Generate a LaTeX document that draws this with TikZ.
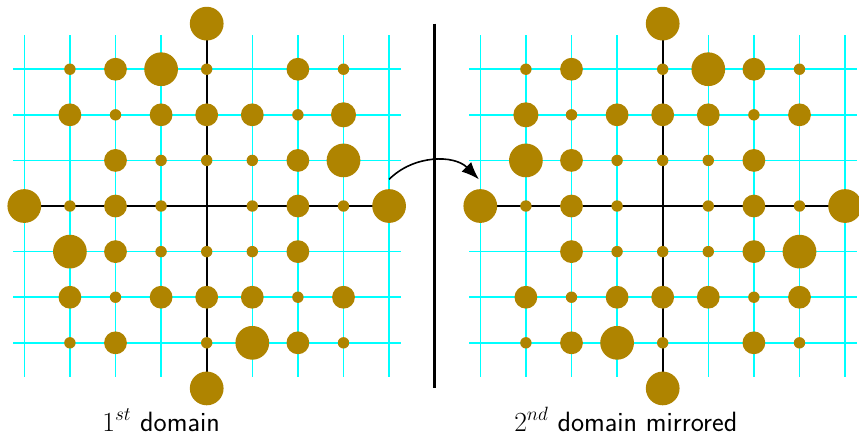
\documentclass[tikz,border=0pt]{standalone}
\usetikzlibrary{arrows.meta}
\definecolor{dotgold}{RGB}{175,132,0}
\definecolor{gridcyan}{RGB}{0,255,255}
\tikzset{
  gridfill/.style={fill=gridcyan, draw=none},
  axisline/.style={black, line width=1pt},
  divider/.style={black, line width=1.7pt},
  mirrorarrow/.style={black, line width=1pt, -{Latex[length=11pt,width=8.5pt]}},
  lbl/.style={anchor=base, font=\fontsize{17.4}{20}\selectfont\sffamily, inner sep=0pt},
}
\newcommand{\domaingrid}{%
  \foreach \gx in {-4,...,4} \path[gridfill] (\gx-0.016,3.75) rectangle (\gx+0.016,-3.75);
  \foreach \gy in {-3,...,3} \path[gridfill] (-4.25,\gy-0.016) rectangle (4.25,\gy+0.016);
  \draw[axisline] (-4,0) -- (4,0);
  \draw[axisline] (0,4) -- (0,-4);
  \foreach \dx/\dy/\dr in {
     0/4/0.37,
    -3/3/0.125, -2/3/0.25, -1/3/0.37, 0/3/0.125, 2/3/0.25, 3/3/0.125,
    -3/2/0.25, -2/2/0.125, -1/2/0.25, 0/2/0.25, 1/2/0.25, 2/2/0.125, 3/2/0.275,
    -2/1/0.25, -1/1/0.125, 0/1/0.125, 1/1/0.125, 2/1/0.25, 3/1/0.37,
    -4/0/0.37, -3/0/0.125, -2/0/0.25, -1/0/0.125, 1/0/0.125, 2/0/0.25, 3/0/0.125, 4/0/0.37,
    -3/-1/0.37, -2/-1/0.25, -1/-1/0.125, 0/-1/0.125, 1/-1/0.125, 2/-1/0.25,
    -3/-2/0.25, -2/-2/0.125, -1/-2/0.25, 0/-2/0.25, 1/-2/0.25, 2/-2/0.125, 3/-2/0.25,
    -3/-3/0.125, -2/-3/0.25, 0/-3/0.125, 1/-3/0.37, 2/-3/0.25, 3/-3/0.125,
     0/-4/0.37}
    \fill[dotgold] (\dx,\dy) circle (\dr);
}
\begin{document}
\begin{tikzpicture}
  \useasboundingbox (-4.533,-5.022) rectangle (14.305,4.518);
  \begin{scope}
    \domaingrid
  \end{scope}
  \begin{scope}[shift={(10,0)}, xscale=-1]
    \domaingrid
  \end{scope}
  \coordinate (divtop) at (5,4);
  \coordinate (divbot) at (5,-4);
  \draw[divider] (divtop) -- (divbot);
  \coordinate (arrS) at (4,0.585);
  \coordinate (arrE) at (5.97,0.585);
  \draw[mirrorarrow] (arrS) to[bend left=45] (arrE);
  \node[lbl] (lab1) at (-1,-4.934) {$1^{st}$ domain};
  \node[lbl] (lab2) at (9.19,-4.934) {$2^{nd}$ domain mirrored};
\end{tikzpicture}
\end{document}
